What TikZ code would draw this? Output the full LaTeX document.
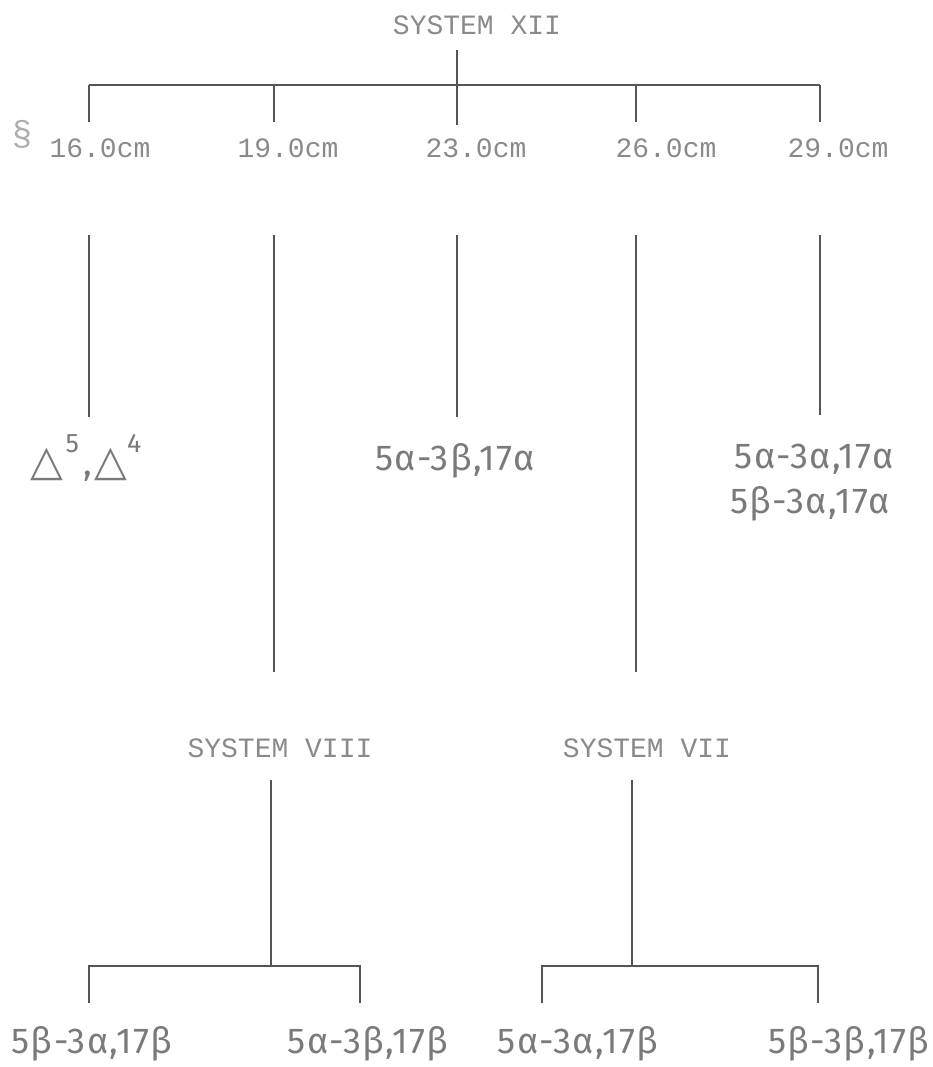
\documentclass[tikz,border=0pt]{standalone}
\usepackage{fontspec}
\newfontfamily\tw{Liberation Mono}
\newfontfamily\hw{Fira Sans}[LetterSpace=4]
\newfontfamily\sym{DejaVu Sans}
\definecolor{ink}{HTML}{555555}
\definecolor{typ}{HTML}{8A8A8A}
\definecolor{hand}{HTML}{7A7A7A}
\tikzset{
  conn/.style={draw=ink, line width=1.1pt},
  typed/.style={inner sep=0pt, text=typ, font=\tw\fontsize{21}{21}\selectfont},
  handw/.style={inner sep=0pt, text=hand, font=\hw\fontsize{27}{27}\selectfont},
}
\newcommand{\tri}{{\sym\fontsize{32}{32}\selectfont △}}
\newcommand{\sups}[1]{\raisebox{0.62em}{\fontsize{20}{20}\selectfont #1}}
\begin{document}
\begin{tikzpicture}[x=0.75pt,y=-0.75pt]
\path[use as bounding box] (0,0) rectangle (932,1067);
% titles and typed labels
\node[typed] (sys12) at (477,25) {SYSTEM XII};
\node[typed] (c16) at (100,148) {16.0cm};
\node[typed] (c19) at (288,148) {19.0cm};
\node[typed] (c23) at (476,148) {23.0cm};
\node[typed] (c26) at (666,148) {26.0cm};
\node[typed] (c29) at (838,148) {29.0cm};
\node[typed, font=\tw\fontsize{26}{26}\selectfont, text=typ!70] (sect) at (22,134) {§};
\node[typed] (sys8) at (280,748) {SYSTEM VIII};
\node[typed] (sys7) at (647,748) {SYSTEM VII};
% handwritten labels
\node[handw, anchor=base west] (d54) at (30,475) {\tri\hspace{2pt}\sups{5}\hspace{3pt},\hspace{2pt}\tri\sups{4}};
\node[handw, anchor=base] (l23) at (455,470) {5α-3β,17α};
\node[handw, anchor=base] (l29a) at (814,468) {5α-3α,17α};
\node[handw, anchor=base] (l29b) at (810,513) {5β-3α,17α};
\node[handw, anchor=base] (b1) at (92,1053) {5β-3α,17β};
\node[handw, anchor=base] (b2) at (368,1053) {5α-3β,17β};
\node[handw, anchor=base] (b3) at (578,1053) {5α-3α,17β};
\node[handw, anchor=base east] (b4) at (930,1053) {5β-3β,17β};
% top tree
\coordinate (tTop) at (457,50);
\coordinate (tJ) at (457,85);
\coordinate (tL) at (89,85);
\coordinate (tR) at (820,85);
\coordinate (j19) at (274,85);
\coordinate (j26) at (636,85);
\coordinate (e16) at (89,122);
\coordinate (e19) at (274,122);
\coordinate (e23) at (457,125);
\coordinate (e26) at (636,122);
\coordinate (e29) at (820,122);
\draw[conn] (tTop) -- (e23);
\draw[conn] (tL) -- (tR);
\draw[conn] (tL) -- (e16);
\draw[conn] (j19) -- (e19);
\draw[conn] (j26) -- (e26);
\draw[conn] (tR) -- (e29);
% middle lines
\coordinate (s16) at (89,235);   \coordinate (f16) at (89,417);
\coordinate (s19) at (274,235);  \coordinate (f19) at (274,672);
\coordinate (s23) at (457,235);  \coordinate (f23) at (457,417);
\coordinate (s26) at (636,235);  \coordinate (f26) at (636,672);
\coordinate (s29) at (820,235);  \coordinate (f29) at (820,415);
\draw[conn] (s16) -- (f16);
\draw[conn] (s19) -- (f19);
\draw[conn] (s23) -- (f23);
\draw[conn] (s26) -- (f26);
\draw[conn] (s29) -- (f29);
% lower trees
\coordinate (v8) at (271,780);  \coordinate (v8J) at (271,966);
\coordinate (v8L) at (89,966);  \coordinate (v8R) at (360,966);
\coordinate (v8Le) at (89,1003); \coordinate (v8Re) at (360,1003);
\draw[conn] (v8) -- (v8J);
\draw[conn] (v8Le) -- (v8L) -- (v8R) -- (v8Re);
\coordinate (v7) at (632,780);  \coordinate (v7J) at (632,966);
\coordinate (v7L) at (542,966); \coordinate (v7R) at (818,966);
\coordinate (v7Le) at (542,1003); \coordinate (v7Re) at (818,1003);
\draw[conn] (v7) -- (v7J);
\draw[conn] (v7Le) -- (v7L) -- (v7R) -- (v7Re);
\end{tikzpicture}
\end{document}
